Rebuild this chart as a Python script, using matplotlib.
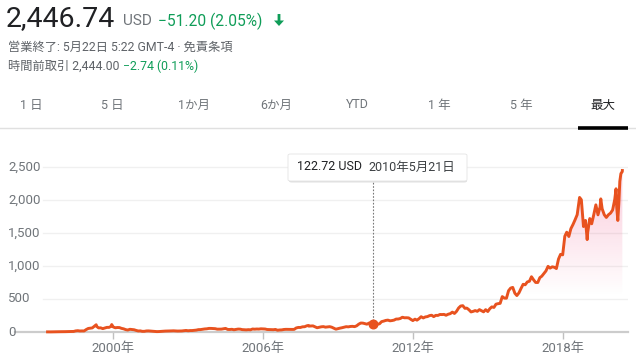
import numpy as np
import pandas as pd
import matplotlib
matplotlib.use('Agg')
import matplotlib.pyplot as plt
from matplotlib import transforms
from matplotlib.colors import to_rgb
from matplotlib.patches import FancyBboxPatch, Polygon

plt.rcParams['font.family'] = ['Roboto', 'Noto Sans CJK JP', 'DejaVu Sans']

# month-end closes (USD, split adjusted)
close_1997 = [1.6, 1.6, 2.5, 3.4, 4.2, 4.1, 4.3, 5.0]  # May..Dec
close_1998 = [5.3, 6.6, 7.0, 7.8, 8.2, 16.5, 19.9, 15.4, 16.5, 15.7, 36.5, 53.5]
close_1999 = [58, 62, 89, 87, 62, 63, 51, 60, 70, 70, 86, 76]
close_2000 = [64, 68, 67, 55, 48, 36, 30, 41, 38, 34, 24, 15.6]
close_2001 = [17, 10, 10, 15.8, 16.7, 14, 12.5, 9, 6, 6.9, 9.5, 10.8]
close_2002 = [14, 14.5, 14.3, 16.7, 18.2, 16.3, 14.4, 15, 16, 19.4, 23.4, 18.9]
close_2003 = [21.9, 22, 26, 28.7, 35.9, 36.5, 41.6, 46.3, 48.4, 54.4, 54.4, 52.6]
close_2004 = [50.4, 43, 43.3, 43.6, 48.5, 54.4, 38.9, 38.1, 40.9, 34.1, 39.7, 44.3]
close_2005 = [43.2, 36.2, 34.3, 32.4, 35.5, 33.1, 45.2, 42.7, 45.3, 44.0, 48.5, 47.2]
close_2006 = [45.2, 37.9, 36.5, 35.2, 34.6, 38.7, 27, 30.8, 32.1, 38.1, 40.3, 39.5]
close_2007 = [37.7, 39.1, 39.8, 61.3, 69.1, 68.4, 78.5, 79.9, 93.2, 89.2, 90.6, 92.6]
close_2008 = [77.7, 64.5, 71.3, 78.6, 81.6, 73.3, 76.3, 80.8, 72.8, 57.2, 42.7, 51.3]
close_2009 = [58.8, 64.8, 73.4, 80.5, 77.9, 83.7, 85.8, 81.2, 93.4, 118.8, 135.9, 134.5]
close_2010 = [125.4, 118.4, 135.8, 137.1, 125.5, 109.3, 117.9, 124.8, 157.1, 165.2, 175.4, 180]
close_2011 = [169.6, 173.3, 180.1, 195.8, 196.7, 204.5, 223.7, 215.2, 216.2, 213.5, 192.3, 173.1]
close_2012 = [194.4, 179.7, 202.5, 231.9, 212.9, 228.4, 233.3, 248.3, 254.3, 232.9, 252.1, 250.9]
close_2013 = [265.5, 264.3, 266.5, 253.8, 269.2, 277.7, 301.2, 280.9, 312.6, 364, 393.6, 398.8]
close_2014 = [358.7, 362.1, 336.4, 304.1, 312.6, 324.8, 312.9, 339, 322.4, 305.5, 338.6, 310.3]
close_2015 = [354.5, 380.2, 372.1, 421.8, 429.2, 434.1, 536.2, 512.9, 511.9, 625.9, 664.8, 675.9]
close_2016 = [587, 552.5, 593.6, 659.6, 722.8, 715.6, 758.8, 769.2, 837.3, 789.8, 750.6, 749.9]
close_2017 = [823.5, 845, 886.5, 924.9, 994.6, 968, 987.8, 980.6, 961.4, 1105.3, 1176.8, 1169.5]
close_2018 = [1450.9, 1512.5, 1447.3, 1566.1, 1629.6, 1699.8, 1777.4, 2012.7, 2003, 1598, 1690.2, 1502]
close_2019 = [1718.7, 1639.8, 1780.8, 1926.5, 1775.1, 1893.6, 1866.8, 1776.3, 1735.9, 1776.7, 1800.8, 1847.8]
close_2020 = [2008.7, 1883.8, 1949.7, 2400]  # Jan..Apr

# daily highs / lows that stand out on the chart
extra_dates = ['1997-05-15', '1999-04-26', '1999-12-09', '2007-10-24', '2010-05-21',
               '2018-09-04', '2018-12-24', '2019-07-11', '2020-02-19', '2020-03-16',
               '2020-04-14', '2020-05-20', '2020-05-21']
extra_prices = [1.96, 110, 113, 99, 122.72,
                2039, 1400, 2017, 2170, 1690,
                2283, 2430, 2446.74]

y_ticks = [0, 500, 1000, 1500, 2000, 2500]
x_ticks = [2000, 2006, 2012, 2018]
tabs = ['1 日', '5 日', '1か月', '6か月', 'YTD', '1 年', '5 年', '最大']

monthly = (close_1997 + close_1998 + close_1999 + close_2000 + close_2001 + close_2002 +
           close_2003 + close_2004 + close_2005 + close_2006 + close_2007 + close_2008 +
           close_2009 + close_2010 + close_2011 + close_2012 + close_2013 + close_2014 +
           close_2015 + close_2016 + close_2017 + close_2018 + close_2019 + close_2020)
month_dates = pd.date_range('1997-05-31', periods=len(monthly), freq='ME')

df = pd.concat([
    pd.DataFrame({'date': month_dates, 'price': monthly}),
    pd.DataFrame({'date': pd.to_datetime(extra_dates), 'price': extra_prices}),
]).sort_values('date')
df['x'] = df['date'].dt.year + (df['date'].dt.dayofyear - 1) / 365.25

W, H = 636, 356
LINE = '#e8521f'
GRAY = '#70757a'
GREEN = '#0f9d58'
DARK = '#202124'


def fx(px):
    return px / W


def fy(py):
    return 1 - py / H


fig = plt.figure(figsize=(W / 100, H / 100), dpi=100)

# ---- header ----
fig.text(fx(6), fy(19), '2,446.74', fontsize=20.5, color=DARK, va='center')
fig.text(fx(123), fy(21), 'USD', fontsize=11, color=GRAY, va='center')
fig.text(fx(158), fy(21), '\u221251.20 (2.05%)', fontsize=11.2, color=GREEN, va='center')
# thick down arrow
ax_arr = fig.add_axes([fx(272), fy(26), fx(286) - fx(272), (26 - 14) / H])
ax_arr.set_xlim(0, 14)
ax_arr.set_ylim(0, 12)
ax_arr.axis('off')
ax_arr.add_patch(Polygon([[5.6, 12], [8.4, 12], [8.4, 5.5], [12, 5.5], [7, 0], [2, 5.5], [5.6, 5.5]],
                         closed=True, facecolor=GREEN, edgecolor='none'))
fig.text(fx(8), fy(47.5), '営業終了: 5月22日 5:22 GMT-4 · 免責条項', fontsize=8.8, color='#5f6368', va='center')
fig.text(fx(8), fy(66.5), '時間前取引 2,444.00', fontsize=8.8, color='#5f6368', va='center')
fig.text(fx(123), fy(66.5), '\u22122.74 (0.11%)', fontsize=8.8, color=GREEN, va='center')

# ---- range tabs ----
for i, t in enumerate(tabs):
    fig.text(fx(31 + 81.7 * i), fy(105), t, fontsize=9, ha='center', va='center',
             color='#202124' if t == '最大' else GRAY)
fig.add_artist(plt.Line2D([0, 1], [fy(127.5), fy(127.5)], transform=fig.transFigure,
                          color='#e0e0e0', lw=1))
fig.add_artist(plt.Line2D([fx(578), fx(628)], [fy(127.5), fy(127.5)], transform=fig.transFigure,
                          color='black', lw=2.6, solid_capstyle='butt'))

# ---- chart ----
x_left = 2000 - (113.3 - 15) / 24.97
x_right = 2000 + (628 - 113.3) / 24.97
y_top = 2500 * (332 - 160) / (332 - 167)
ax = fig.add_axes([fx(15), fy(332), fx(628) - fx(15), (332 - 160) / H])
ax.set_xlim(x_left, x_right)
ax.set_ylim(0, y_top)
for s in ax.spines.values():
    s.set_visible(False)

grid_x0 = x_left + (43 - 15) / 24.97
for v in y_ticks[1:]:
    ax.plot([grid_x0, x_right], [v, v], color='#f0f0f0', lw=1, zorder=1)
ax.plot([x_left, x_right], [0, 0], color='#cccccc', lw=1.6, zorder=2, clip_on=False)

# gradient fill under the line
xs = df['x'].to_numpy()
ys = df['price'].to_numpy()
poly = Polygon(np.column_stack([np.r_[xs[0], xs, xs[-1]], np.r_[0, ys, 0]]),
               closed=True, facecolor='none', edgecolor='none')
ax.add_patch(poly)
grad = np.zeros((256, 1, 4))
grad[..., :3] = to_rgb('#e91e63')
grad[:, 0, 3] = np.linspace(0, 0.24, 256)
im = ax.imshow(grad, origin='lower', aspect='auto', extent=(x_left, x_right, 550, 2500),
               interpolation='bilinear', zorder=2)
im.set_clip_path(poly)

ax.plot(xs, ys, color=LINE, lw=2.1, zorder=4, clip_on=False, solid_joinstyle='round')

# hover marker
hover_x = 2010 + (141 - 1) / 365.25
ax.plot([hover_x, hover_x], [122.72, y_top - (182 - 160) / 0.066], color='#777777',
        lw=0.8, ls=(0, (1.5, 1.5)), zorder=3)
ax.plot(hover_x, 122.72, 'o', color=LINE, ms=6.2, zorder=5, clip_on=False)

ax.set_yticks([])
ax.set_xticks(x_ticks)
ax.set_xticklabels([f'{t}年' for t in x_ticks], fontsize=9.5, color=GRAY)
ax.tick_params(axis='x', length=5, width=1, color='#c0c0c0', pad=2)

yt = transforms.blended_transform_factory(fig.transFigure, ax.transData)
for v in y_ticks:
    fig.text(fx(8), v, f'{v:,}', transform=yt, fontsize=9.5, color=GRAY, va='center', ha='left')

# tooltip box
shadow = FancyBboxPatch((fx(289), fy(182.5)), fx(467) - fx(289), fy(155) - fy(182),
                        boxstyle='round,pad=0,rounding_size=0.004', transform=fig.transFigure,
                        facecolor='#000000', alpha=0.12, edgecolor='none', zorder=9)
box = FancyBboxPatch((fx(288), fy(181)), fx(467) - fx(288), fy(154) - fy(181),
                     boxstyle='round,pad=0,rounding_size=0.004', transform=fig.transFigure,
                     facecolor='white', edgecolor='#e4e4e4', lw=0.6, zorder=10)
fig.add_artist(shadow)
fig.add_artist(box)
fig.text(fx(297), fy(167), '122.72 USD', fontsize=9, color=DARK, va='center', zorder=11)
fig.text(fx(368), fy(167), '2010年5月21日', fontsize=9, color='#3c4043', va='center', zorder=11)

fig.savefig('out.png', dpi=100)
